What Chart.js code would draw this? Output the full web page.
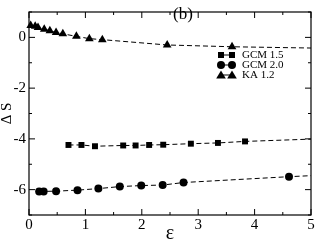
<!DOCTYPE html>
<html><head><meta charset="utf-8">
<script src="https://cdn.jsdelivr.net/npm/chart.js@4/dist/chart.umd.min.js"></script>
<style>html,body{margin:0;padding:0;background:#fff;}canvas{display:block;}</style>
</head><body>
<canvas id="c" width="316" height="244"></canvas>
<script>
// ---- data ----
const epsKA   = [0.03, 0.11, 0.16, 0.27, 0.37, 0.48, 0.60, 0.84, 1.07, 1.30, 2.45, 3.60];
const dsKA    = [0.47, 0.44, 0.39, 0.32, 0.26, 0.19, 0.14, 0.04, -0.05, -0.09, -0.30, -0.37];
const epsG15  = [0.70, 0.93, 1.17, 1.67, 1.89, 2.13, 2.38, 2.87, 3.35, 3.83];
const dsG15   = [-4.24, -4.24, -4.29, -4.26, -4.26, -4.24, -4.23, -4.19, -4.16, -4.10];
const epsG20  = [0.18, 0.26, 0.48, 0.86, 1.23, 1.61, 1.99, 2.37, 2.74, 4.61];
const dsG20   = [-6.07, -6.07, -6.06, -6.02, -5.96, -5.88, -5.84, -5.82, -5.72, -5.49];
// dashed fit lines: value reached at eps = 5
const fitEnd  = { ka: -0.42, g15: -4.01, g20: -5.45 };
const xTickValues = [0, 1, 2, 3, 4, 5];
const yTickValues = [-6, -4, -2, 0];
const seriesNames = ['GCM 1.5', 'GCM 2.0', 'KA 1.2'];

const pts = (xs, ys) => xs.map((x, i) => ({x: x, y: ys[i]}));
const fitLine = (xs, ys, end) => pts(xs, ys).concat([{x: 5, y: end}]);

const SERIF = '"Liberation Serif", "DejaVu Serif", serif';

function drawMarker(ctx, style, x, y) {
  ctx.beginPath();
  if (style === 'rect') {
    ctx.rect(x - 3, y - 3, 6, 6);
  } else if (style === 'circle') {
    ctx.arc(x, y, 4, 0, Math.PI * 2);
  } else {
    ctx.moveTo(x, y - 4.5); ctx.lineTo(x + 4.8, y + 3.5); ctx.lineTo(x - 4.8, y + 3.5); ctx.closePath();
  }
  ctx.fill();
}

const framePlugin = {
  id: 'frame',
  beforeDatasetsDraw(chart) {
    const {ctx, chartArea: a, scales} = chart;
    ctx.save();
    ctx.strokeStyle = '#000';
    ctx.lineWidth = 1.2;
    ctx.strokeRect(a.left, a.top, a.right - a.left, a.bottom - a.top);
    ctx.lineWidth = 1;
    ctx.beginPath();
    for (let v = 0; v <= 5.0001; v += 0.5) {
      const px = scales.x.getPixelForValue(v);
      const len = Math.abs(v - Math.round(v)) < 1e-6 ? 6 : 3;
      ctx.moveTo(px, a.bottom); ctx.lineTo(px, a.bottom - len);
      ctx.moveTo(px, a.top); ctx.lineTo(px, a.top + len);
    }
    for (let v = -7; v <= 1.0001; v += 1) {
      const py = scales.y.getPixelForValue(v);
      const len = (Math.round(v) % 2 === 0) ? 6 : 3;
      ctx.moveTo(a.left, py); ctx.lineTo(a.left + len, py);
      ctx.moveTo(a.right, py); ctx.lineTo(a.right - len, py);
    }
    ctx.stroke();
    ctx.restore();
  },
  afterDraw(chart) {
    const {ctx} = chart;
    ctx.save();
    ctx.fillStyle = '#000';
    ctx.strokeStyle = '#000';
    ctx.font = '17px ' + SERIF;
    ctx.textAlign = 'center';
    ctx.textBaseline = 'middle';
    ctx.fillText('(b)', 183, 15);
    const styles = ['rect', 'circle', 'triangle'];
    ctx.font = '11px ' + SERIF;
    ctx.textAlign = 'left';
    seriesNames.forEach((name, i) => {
      const y = 55 + i * 10;
      ctx.lineWidth = 1;
      ctx.beginPath(); ctx.moveTo(221, y); ctx.lineTo(232, y); ctx.stroke();
      drawMarker(ctx, styles[i], 221, y);
      drawMarker(ctx, styles[i], 232, y);
      ctx.fillText(name, 242, y + 0.5);
    });
    ctx.restore();
  }
};

const lineDs = (data) => ({
  data: data, showLine: true, borderColor: '#000', borderWidth: 1,
  borderDash: [5, 3], pointRadius: 0, fill: false, clip: false, order: 2
});
const markDs = (data, style, r) => ({
  data: data, showLine: false, pointStyle: style, pointRadius: r,
  backgroundColor: '#000', borderColor: '#000', borderWidth: 0, clip: false, order: 1
});

new Chart(document.getElementById('c'), {
  type: 'scatter',
  data: {
    datasets: [
      lineDs(fitLine(epsG15, dsG15, fitEnd.g15)),
      lineDs(fitLine(epsG20, dsG20, fitEnd.g20)),
      lineDs(fitLine([0].concat(epsKA), [0.5].concat(dsKA), fitEnd.ka)),
      markDs(pts(epsG15, dsG15), 'rect', 4.2),
      markDs(pts(epsG20, dsG20), 'circle', 4),
      markDs(pts(epsKA, dsKA), 'triangle', 5)
    ]
  },
  options: {
    responsive: false,
    animation: false,
    devicePixelRatio: 1,
    layout: { padding: { left: 0, right: 4, top: 1, bottom: 0 } },
    plugins: { legend: { display: false }, tooltip: { enabled: false } },
    scales: {
      x: {
        type: 'linear', min: 0, max: 5,
        afterBuildTicks: s => { s.ticks = xTickValues.map(v => ({value: v})); },
        afterFit: s => { s.height = 29; },
        grid: { display: false, drawTicks: false },
        border: { display: false },
        ticks: { color: '#000', padding: 1, maxRotation: 0, font: { family: SERIF, size: 15 } },
        title: { display: true, text: 'ε', color: '#000', padding: 0,
                 font: { family: SERIF, size: 20, lineHeight: 1 } }
      },
      y: {
        type: 'linear', min: -7, max: 1,
        afterBuildTicks: s => { s.ticks = yTickValues.map(v => ({value: v})); },
        afterFit: s => { s.width = 29; },
        grid: { display: false, drawTicks: false },
        border: { display: false },
        ticks: { color: '#000', padding: 3, font: { family: SERIF, size: 15 } },
        title: { display: true, text: 'Δ S', color: '#000', padding: 0,
                 font: { family: SERIF, size: 15, lineHeight: 1 } }
      }
    }
  },
  plugins: [framePlugin]
});
</script>
</body></html>
